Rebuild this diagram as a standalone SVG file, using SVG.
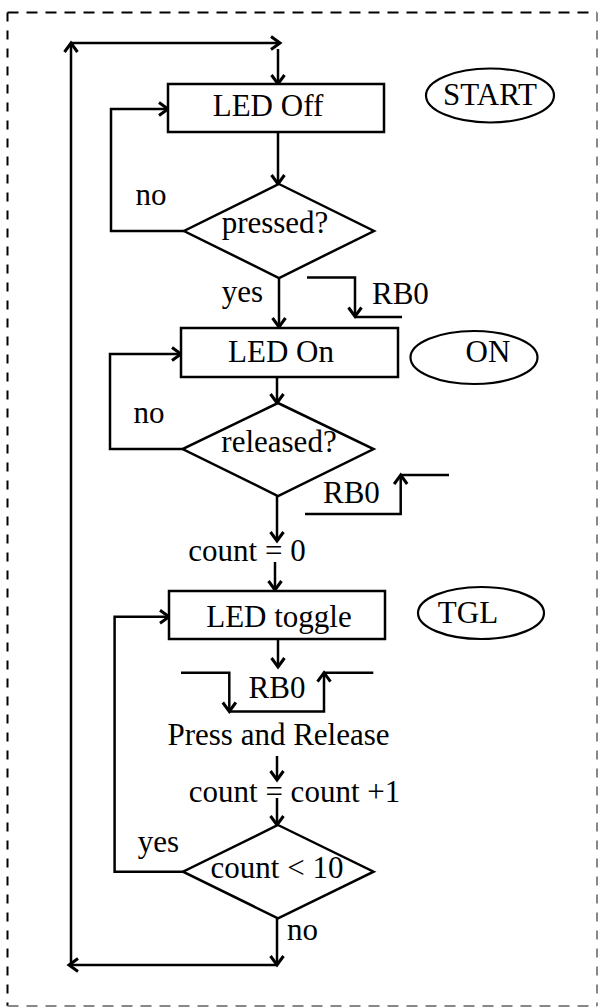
<svg xmlns="http://www.w3.org/2000/svg" width="599" height="1008" viewBox="0 0 599 1008">
<style>
  .shape { fill: #fff; stroke: #000; stroke-width: 2.5; }
  .ell { fill: #fff; stroke: #000; stroke-width: 2.2; }
  .ln { fill: none; stroke: #000; stroke-width: 2.5; }
  .arr { fill: none; stroke: #000; stroke-width: 2.5; marker-end: url(#ah); }
  text { font-family: "Liberation Serif", "Times New Roman", serif; font-size: 31px; fill: #000; }
  .c { text-anchor: middle; }
</style>
<defs>
  <marker id="ah" markerUnits="userSpaceOnUse" viewBox="0 0 14 16" markerWidth="14" markerHeight="16" refX="11" refY="8" orient="auto">
    <path d="M2,1.5 L11,8 L2,14.5" fill="none" stroke="#000" stroke-width="3"/>
  </marker>
</defs>
<rect width="599" height="1008" fill="#fff"/>
<g id="border">
  <line x1="7.5" y1="12.5" x2="597" y2="12.5" stroke="#000" stroke-width="2" stroke-dasharray="11 8"/>
  <line x1="7.5" y1="12.5" x2="7.5" y2="1006" stroke="#000" stroke-width="2" stroke-dasharray="9 9"/>
  <line x1="597" y1="12.5" x2="597" y2="1006" stroke="#888" stroke-width="2" stroke-dasharray="9 9"/>
  <line x1="7.5" y1="1006" x2="597" y2="1006" stroke="#888" stroke-width="2" stroke-dasharray="11 8"/>
</g>
<g id="connectors">
  <path class="arr" d="M277,918 V965"/>
  <path class="arr" d="M277,965 H69"/>
  <path class="arr" d="M71,965 V43"/>
  <path class="arr" d="M71,43 H280"/>
  <path class="arr" d="M278,49 V84"/>
  <path class="arr" d="M278,132 V184"/>
  <path class="arr" d="M184,231 H111 V109 H168"/>
  <path class="arr" d="M279,278 V327"/>
  <path class="arr" d="M277,377 V403"/>
  <path class="arr" d="M182.6,449 H110 V354 H181"/>
  <path class="arr" d="M277,496 V541"/>
  <path class="arr" d="M275,562 V590"/>
  <path class="arr" d="M278,639 V667"/>
  <path class="arr" d="M277,756 V780"/>
  <path class="arr" d="M277,798 V825"/>
  <path class="arr" d="M183,871.7 H114.6 V616.7 H169"/>
</g>
<g id="rb0-falling">
  <path class="arr" d="M307,277.5 H355 V316.5"/>
  <path class="ln" d="M355,317 H402"/>
  <text x="372" y="304">RB0</text>
</g>
<g id="rb0-rising">
  <path class="arr" d="M305,514 H400.7 V475"/>
  <path class="ln" d="M400.7,475 H449"/>
  <text class="c" x="351.4" y="502.7">RB0</text>
</g>
<g id="rb0-pulse">
  <path class="arr" d="M181,672.7 H229.3 V711.5"/>
  <path class="arr" d="M229.3,711.5 H324 V672.7"/>
  <path class="ln" d="M324,672.7 H373.3"/>
  <text class="c" x="277" y="697.7">RB0</text>
</g>
<g id="led-off">
  <rect class="shape" x="168" y="84" width="216" height="48"/>
  <text class="c" x="268" y="116">LED Off</text>
</g>
<g id="start">
  <ellipse class="ell" cx="490" cy="95.5" rx="64" ry="27"/>
  <text class="c" x="490" y="105">START</text>
</g>
<g id="pressed">
  <polygon class="shape" points="279,184 374,231 279,278 184,231"/>
  <text class="c" x="275" y="233">pressed?</text>
  <text class="c" x="151" y="205">no</text>
  <text class="c" x="242.5" y="302">yes</text>
</g>
<g id="led-on">
  <rect class="shape" x="181" y="328" width="217" height="49"/>
  <text class="c" x="281" y="362">LED On</text>
</g>
<g id="on">
  <ellipse class="ell" cx="474" cy="357.5" rx="63.5" ry="26.5"/>
  <text class="c" x="488" y="362">ON</text>
</g>
<g id="released">
  <polygon class="shape" points="278,403 373.6,449 278,496 182.6,449"/>
  <text class="c" x="279" y="452">released?</text>
  <text class="c" x="149" y="423">no</text>
</g>
<g id="count-zero">
  <text class="c" x="247" y="560.7">count = 0</text>
</g>
<g id="led-toggle">
  <rect class="shape" x="169" y="591" width="216" height="48"/>
  <text class="c" x="279" y="626.7">LED toggle</text>
</g>
<g id="tgl">
  <ellipse class="ell" cx="481" cy="613" rx="63" ry="26"/>
  <text class="c" x="468" y="623.3">TGL</text>
</g>
<g id="press-release">
  <text class="c" x="278.5" y="745">Press and Release</text>
</g>
<g id="count-inc">
  <text class="c" x="294.5" y="801.7">count = count +1</text>
</g>
<g id="count-check">
  <polygon class="shape" points="278,825 373.6,871.7 278,918.3 183,871.7"/>
  <text class="c" x="277" y="878">count &lt; 10</text>
  <text class="c" x="158.5" y="851.7">yes</text>
  <text x="287" y="940">no</text>
</g>
</svg>
